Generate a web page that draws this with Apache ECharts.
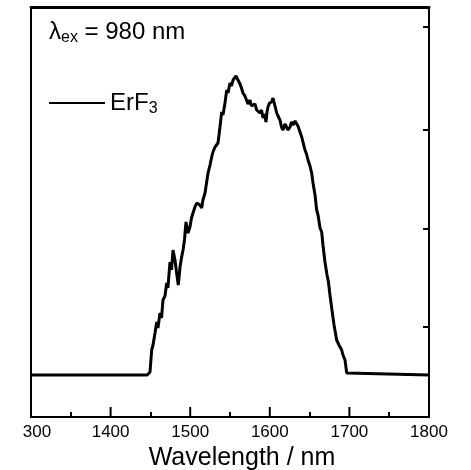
<!DOCTYPE html>
<html>
<head>
<meta charset="utf-8">
<script src="https://cdn.jsdelivr.net/npm/echarts@6/dist/echarts.min.js"></script>
<style>
  html, body { margin: 0; padding: 0; background: #fff; }
  #chart { width: 471px; height: 470px; }
</style>
</head>
<body>
<div id="chart"></div>
<script>
// emission spectrum (wavelength nm, intensity a.u.)
const wavelength = [
  1300, 1446, 1449.5, 1451.6, 1453.3, 1455.8, 1457.9, 1459.5, 1462.1, 1464, 1465.8,
  1468.3, 1470.5, 1472, 1474.6, 1476.5, 1478.4, 1480.9, 1482.8, 1485, 1487.2,
  1489, 1491, 1492.8, 1494.7, 1497.2, 1499.7, 1501.6, 1503.5, 1506, 1508.2,
  1509.8, 1512.3, 1514.4, 1516, 1518.6, 1520.5, 1522.4, 1524.9, 1527, 1528.6,
  1531.2, 1534.9, 1536.2, 1537.4, 1539.6, 1541.2, 1543.7, 1545.9, 1547.5, 1550,
  1551.9, 1553.8, 1555.7, 1557.5, 1559.4, 1561.3, 1562.6, 1564.4, 1566.3, 1568.8,
  1571, 1572.6, 1575.1, 1577, 1578.9, 1581.4, 1583.5, 1585.2, 1587.7, 1589.6,
  1591.5, 1593.3, 1595.2, 1596.5, 1597.7, 1599.6, 1602.4, 1604, 1606.5, 1608.7,
  1610.3, 1612.8, 1614.7, 1616.6, 1619.1, 1621.2, 1622.9, 1625.4, 1627.3, 1629.1,
  1631.7, 1633.8, 1635.4, 1637.9, 1640.1, 1641.7, 1644.2, 1646.1, 1648, 1650.5,
  1652.6, 1654.3, 1656.8, 1658.9, 1660.6, 1663.1, 1665.2, 1666.8, 1669.3, 1671.9,
  1673.7, 1675.6, 1678.1, 1680.7, 1684, 1686.9, 1690.3, 1691.9, 1694.5, 1696.6,
  1698.2, 1800
];
const intensity = [
  0, 0, 0.03, 0.25, 0.30, 0.42, 0.53, 0.47, 0.62, 0.57, 0.75,
  0.79, 0.92, 0.87, 1.13, 1.05, 1.25, 1.15, 1.03, 0.90, 1.08,
  1.17, 1.25, 1.35, 1.53, 1.42, 1.48, 1.57, 1.62, 1.68, 1.72,
  1.73, 1.70, 1.67, 1.75, 1.82, 1.92, 2.02, 2.10, 2.18, 2.23,
  2.28, 2.32, 2.40, 2.48, 2.63, 2.60, 2.72, 2.85, 2.82, 2.92,
  2.89, 2.95, 2.93, 2.99, 2.96, 2.97, 2.91, 2.87, 2.82, 2.79,
  2.77, 2.71, 2.75, 2.69, 2.68, 2.71, 2.65, 2.67, 2.62, 2.65,
  2.57, 2.61, 2.53, 2.63, 2.68, 2.72, 2.73, 2.77, 2.75, 2.62,
  2.59, 2.55, 2.48, 2.45, 2.51, 2.52, 2.45, 2.48, 2.53, 2.50,
  2.54, 2.52, 2.49, 2.47, 2.38, 2.33, 2.25, 2.21, 2.15, 2.09,
  2.02, 1.92, 1.80, 1.65, 1.60, 1.47, 1.43, 1.30, 1.13, 1.00,
  0.93, 0.80, 0.65, 0.50, 0.35, 0.30, 0.25, 0.20, 0.15, 0.02,
  0, 0
];
const xTicks = [1300, 1400, 1500, 1600, 1700, 1800];
const xTickLabels = ['300', '1400', '1500', '1600', '1700', '1800'];
const xMajorTicks = [1400, 1500, 1600, 1700];
const xMinorTicks = [1350, 1450, 1550, 1650, 1750];
const rightTicks = [0.48, 1.46, 2.45, 3.48];
const yMin = -0.42;
const yMax = 3.68;

const font = '"Liberation Sans", Arial, sans-serif';
const chart = echarts.init(document.getElementById('chart'));

const blackLine = { color: '#000', width: 2 };

const option = {
  animation: false,
  textStyle: { fontFamily: font },
  grid: { left: 31, right: 42, top: 7, bottom: 53, outerBoundsMode: 'none', containLabel: false },
  title: {
    left: 44,
    top: 13,
    text: '{l|λ}{sub|ex}{l| = 980 nm}',
    textStyle: {
      fontWeight: 'normal',
      rich: {
        l: { fontSize: 24, fontFamily: font, fontWeight: 'normal', color: '#000' },
        sub: { fontSize: 16, fontFamily: font, fontWeight: 'normal', color: '#000', verticalAlign: 'bottom', padding: [12, 0, 0, 0] }
      }
    }
  },
  legend: {
    left: 44,
    top: 86,
    icon: 'rect',
    itemWidth: 56,
    itemHeight: 2,
    itemGap: 8,
    data: ['ErF3'],
    formatter: () => '{a|ErF}{sub|3}',
    textStyle: {
      rich: {
        a: { fontSize: 24, fontFamily: font, color: '#000' },
        sub: { fontSize: 16, fontFamily: font, color: '#000', verticalAlign: 'bottom', padding: [12, 0, 0, 0] }
      }
    }
  },
  xAxis: [
    {
      type: 'value',
      position: 'bottom',
      min: 1300,
      max: 1800,
      interval: 100,
      name: 'Wavelength / nm',
      nameLocation: 'middle',
      nameGap: 27,
      nameTextStyle: { fontSize: 25, color: '#000', fontFamily: font, padding: [0, 0, 0, 24] },
      axisLine: { onZero: false, lineStyle: blackLine },
      axisTick: { show: false },
      splitLine: { show: false },
      axisLabel: {
        fontSize: 17,
        color: '#000',
        margin: 7,
        formatter: (v) => {
          const i = xTicks.indexOf(v);
          return i === 0 ? '{f|' + xTickLabels[i] + '}' : xTickLabels[i];
        },
        rich: { f: { fontSize: 17, color: '#000', fontFamily: font, padding: [0, 0, 0, 12] } }
      }
    },
    {
      type: 'value',
      position: 'top',
      min: 1300,
      max: 1800,
      axisLine: { onZero: false, lineStyle: { color: '#000', width: 3 } },
      axisTick: { show: false },
      axisLabel: { show: false },
      splitLine: { show: false }
    },
    {
      // short minor ticks
      type: 'value',
      position: 'bottom',
      min: 1300,
      max: 1800,
      axisLine: { onZero: false, lineStyle: blackLine },
      axisTick: { show: true, inside: true, length: 5, customValues: xMinorTicks, lineStyle: blackLine },
      axisLabel: { show: false },
      splitLine: { show: false }
    }
  ],
  yAxis: [
    {
      type: 'value',
      position: 'left',
      min: yMin,
      max: yMax,
      axisLine: { show: true, onZero: false, lineStyle: blackLine },
      axisTick: { show: false },
      axisLabel: { show: false },
      splitLine: { show: false }
    },
    {
      type: 'value',
      position: 'right',
      min: yMin,
      max: yMax,
      axisLine: { show: true, onZero: false, lineStyle: blackLine },
      axisTick: { show: true, inside: true, length: 6, customValues: rightTicks, lineStyle: blackLine },
      axisLabel: { show: false },
      splitLine: { show: false }
    }
  ],
  series: [
    {
      name: 'ErF3',
      type: 'line',
      symbol: 'none',
      data: wavelength.map((w, i) => [w, intensity[i]]),
      lineStyle: { color: '#000', width: 3 },
      itemStyle: { color: '#000' }
    }
  ]
};

chart.setOption(option);

// longer major ticks, placed through the axis scale
const yBottom = chart.convertToPixel({ yAxisIndex: 0 }, yMin);
chart.setOption({
  graphic: xMajorTicks.map(v => {
    const x = chart.convertToPixel({ xAxisIndex: 0 }, v);
    return {
      type: 'line',
      z: 10,
      shape: { x1: x, y1: yBottom, x2: x, y2: yBottom - 10 },
      style: { stroke: '#000', lineWidth: 2 }
    };
  })
});
</script>
</body>
</html>
